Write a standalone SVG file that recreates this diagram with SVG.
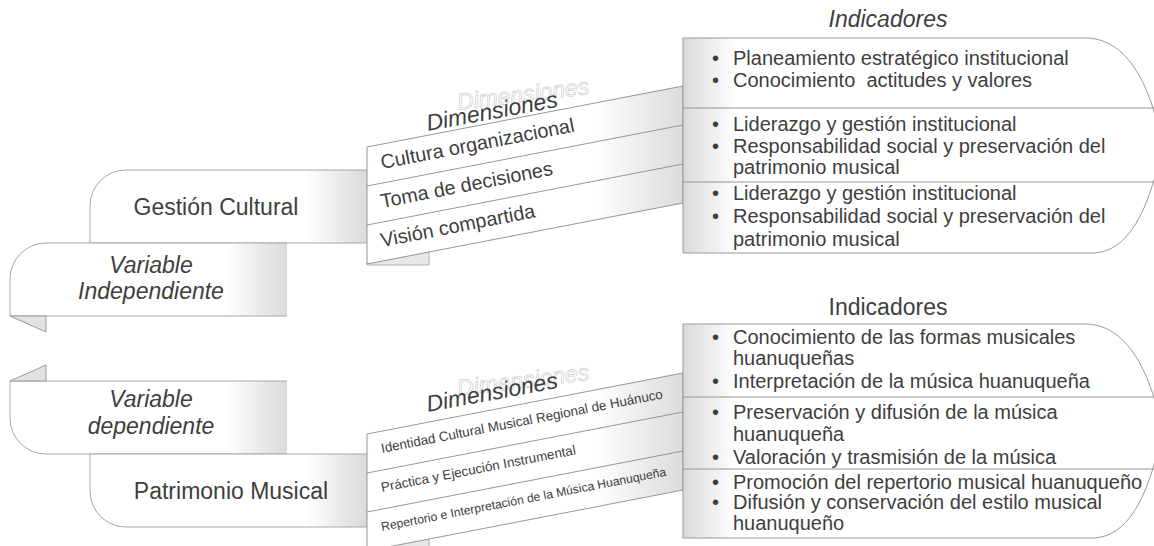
<svg xmlns="http://www.w3.org/2000/svg" width="1154" height="546" viewBox="0 0 1154 546">
<defs>
<linearGradient id="gBox" x1="0" y1="0" x2="1" y2="0">
<stop offset="0" stop-color="#ffffff"/><stop offset="0.78" stop-color="#ffffff"/><stop offset="1" stop-color="#dadada"/>
</linearGradient>
<linearGradient id="gDim" x1="0" y1="0" x2="1" y2="0">
<stop offset="0" stop-color="#ffffff"/><stop offset="0.72" stop-color="#ffffff"/><stop offset="1" stop-color="#dcdcdc"/>
</linearGradient>
<linearGradient id="gInd" x1="0" y1="0" x2="1" y2="0">
<stop offset="0" stop-color="#dadada"/><stop offset="0.11" stop-color="#ffffff"/><stop offset="1" stop-color="#ffffff"/>
</linearGradient>
<style>
.edge{fill:none;stroke:#a8a8a8;stroke-width:1}
.fold{fill:#e2e2e2;stroke:#9a9a9a;stroke-width:1}
.sep{stroke:#8a8a8a;stroke-width:0.9;fill:none}
.t{font-family:"Liberation Sans",Arial,sans-serif;fill:#3e3e3e}
.big{font-size:23px}
.it{font-style:italic}
.ind{font-size:20px}
.dim{font-size:19.8px}
.ghost{font-family:"Liberation Sans",Arial,sans-serif;font-style:italic;font-size:23px;fill:#ffffff;stroke:#cfcfcf;stroke-width:0.7}
</style>
</defs>

<g id="gestion-cultural">
<path d="M90,243 V206 A36,36 0 0 1 126,170 H367 V243 Z" fill="url(#gBox)"/>
<path class="edge" d="M367,243 H90 V206 A36,36 0 0 1 126,170 H367"/>
<text class="t big" x="216" y="215" text-anchor="middle">Gestión Cultural</text>
</g>

<g id="variable-independiente">
<path d="M10,316 V279 A36,36 0 0 1 46,243 H287 V316 Z" fill="url(#gBox)"/>
<path class="edge" d="M287,316 H10 V279 A36,36 0 0 1 46,243 H287"/>
<polygon class="fold" points="10,316 46,316 46,332"/>
<text class="t big it" x="151" y="273" text-anchor="middle">Variable</text>
<text class="t big it" x="151" y="299" text-anchor="middle">Independiente</text>
</g>

<g id="variable-dependiente">
<path d="M10,381 V418 A36,36 0 0 0 46,454 H287 V381 Z" fill="url(#gBox)"/>
<path class="edge" d="M287,381 H10 V418 A36,36 0 0 0 46,454 H287"/>
<polygon class="fold" points="10,381 46,365 46,381"/>
<text class="t big it" x="151" y="407" text-anchor="middle">Variable</text>
<text class="t big it" x="151" y="434" text-anchor="middle">dependiente</text>
</g>

<g id="patrimonio-musical">
<path d="M90,454 V491 A36,36 0 0 0 126,527 H367 V454 Z" fill="url(#gBox)"/>
<path class="edge" d="M367,454 H90 V491 A36,36 0 0 0 126,527 H367"/>
<text class="t big" x="231" y="499" text-anchor="middle">Patrimonio Musical</text>
</g>

<g id="dimensiones-gc">
<polygon class="fold" points="367,263 429,251 429,265 367,265" style="fill:#e8e8e8;stroke:#b0b0b0"/>
<polygon points="367,147 683,86 683,203 367,264" fill="url(#gDim)" stroke="#8a8a8a" stroke-width="0.9"/>
<line class="sep" x1="367" y1="186" x2="683" y2="125"/>
<line class="sep" x1="367" y1="225" x2="683" y2="164"/>
<text class="ghost" x="458" y="110" transform="rotate(-7 458 110)">Dimensiones</text>
<text class="t big it" x="428" y="131" transform="rotate(-10.5 428 131)">Dimensiones</text>
<text class="t dim" x="382" y="169" transform="rotate(-11 382 169)">Cultura organizacional</text>
<text class="t dim" x="382" y="208" transform="rotate(-11 382 208)">Toma de decisiones</text>
<text class="t dim" x="382" y="247" transform="rotate(-11 382 247)">Visión compartida</text>
</g>

<g id="dimensiones-pm">
<polygon class="fold" points="367,549 429,537 429,551 367,551" style="fill:#e8e8e8;stroke:#b0b0b0"/>
<polygon points="367,434 683,373 683,490 367,551" fill="url(#gDim)" stroke="#8a8a8a" stroke-width="0.9"/>
<line class="sep" x1="367" y1="473" x2="683" y2="412"/>
<line class="sep" x1="367" y1="512" x2="683" y2="451"/>
<text class="ghost" x="458" y="396" transform="rotate(-7 458 396)">Dimensiones</text>
<text class="t big it" x="428" y="412" transform="rotate(-10.5 428 412)">Dimensiones</text>
<text class="t" font-size="13.4" x="382" y="453" transform="rotate(-11 382 453)">Identidad Cultural Musical Regional de Huánuco</text>
<text class="t" font-size="13.4" x="382" y="492" transform="rotate(-11 382 492)">Práctica y Ejecución Instrumental</text>
<text class="t" font-size="12.2" x="382" y="531" transform="rotate(-11 382 531)">Repertorio e Interpretación de la Música Huanuqueña</text>
</g>

<g id="indicadores-gc">
<text class="t big it" x="888" y="27" text-anchor="middle">Indicadores</text>
<path d="M683,38 H1085 C1125,38 1150,80 1162,145 C1150,210 1128,253 1092,253 H683 Z" fill="url(#gInd)" stroke="#9a9a9a" stroke-width="1"/>
<line class="sep" x1="683" y1="108" x2="1154" y2="108"/>
<line class="sep" x1="683" y1="182" x2="1154" y2="182"/>
<g class="t ind">
<text x="712" y="65">•</text><text x="733" y="65">Planeamiento estratégico institucional</text>
<text x="712" y="87">•</text><text x="733" y="87">Conocimiento&#160; actitudes y valores</text>
<text x="712" y="131">•</text><text x="733" y="131">Liderazgo y gestión institucional</text>
<text x="712" y="153">•</text><text x="733" y="153">Responsabilidad social y preservación del</text>
<text x="733" y="174">patrimonio musical</text>
<text x="712" y="200">•</text><text x="733" y="200">Liderazgo y gestión institucional</text>
<text x="712" y="223">•</text><text x="733" y="223">Responsabilidad social y preservación del</text>
<text x="733" y="246">patrimonio musical</text>
</g>
</g>

<g id="indicadores-pm">
<text class="t big" x="888" y="315" text-anchor="middle">Indicadores</text>
<path d="M683,324 H1085 C1125,324 1150,368 1162,430 C1150,495 1128,538 1092,538 H683 Z" fill="url(#gInd)" stroke="#9a9a9a" stroke-width="1"/>
<line class="sep" x1="683" y1="397" x2="1154" y2="397"/>
<line class="sep" x1="683" y1="469" x2="1154" y2="469"/>
<g class="t ind">
<text x="712" y="344">•</text><text x="733" y="344">Conocimiento de las formas musicales</text>
<text x="733" y="365">huanuqueñas</text>
<text x="712" y="388">•</text><text x="733" y="388">Interpretación de la música huanuqueña</text>
<text x="712" y="419">•</text><text x="733" y="419">Preservación y difusión de la música</text>
<text x="733" y="441">huanuqueña</text>
<text x="712" y="464">•</text><text x="733" y="464">Valoración y trasmisión de la música</text>
<text x="712" y="489">•</text><text x="733" y="489">Promoción del repertorio musical huanuqueño</text>
<text x="712" y="509">•</text><text x="733" y="509">Difusión y conservación del estilo musical</text>
<text x="733" y="530">huanuqueño</text>
</g>
</g>
</svg>
